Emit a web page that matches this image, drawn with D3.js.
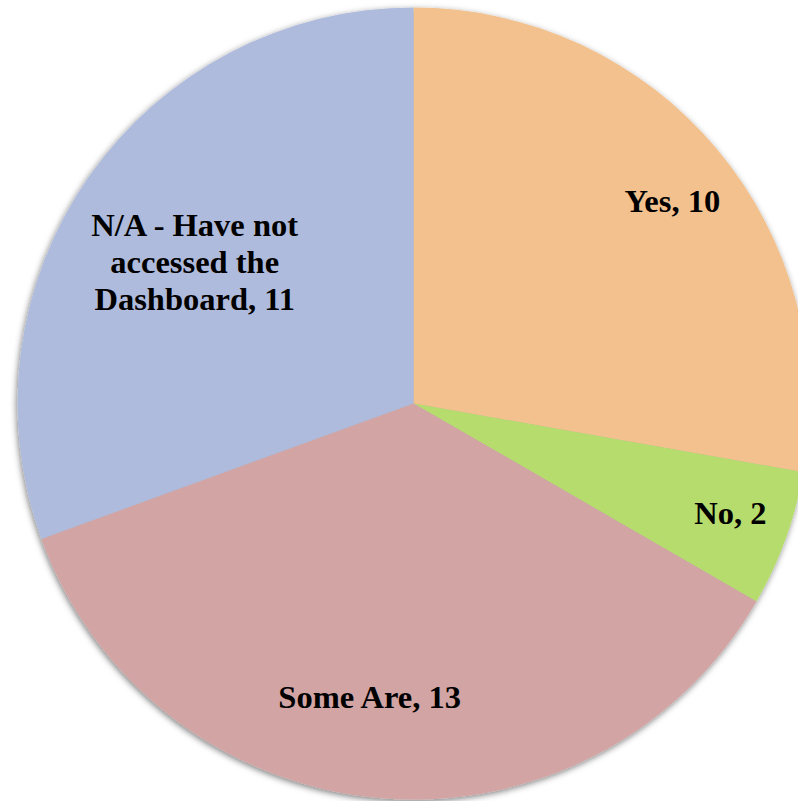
<!DOCTYPE html>
<html>
<head>
<meta charset="utf-8">
<script src="https://cdn.jsdelivr.net/npm/d3@7"></script>
<style>
	html, body { margin: 0; padding: 0; background: #fff; overflow: hidden; }
	text { font-family: 'Palatino Linotype', 'Book Antiqua', Palatino, 'Liberation Serif', serif; font-weight: bold; }
</style>
</head>
<body>
<div id="chart"></div>
<script>
const categories = ['Yes', 'No', 'Some Are', 'N/A - Have not accessed the Dashboard'];
const values = [10, 2, 13, 11];
const colors = ['#f3c18e', '#b6dc6e', '#d2a4a4', '#afbbdc'];

// label layout: radius factor, nudge, line breaks
const labelLayout = [
	{ k: .83, dx: 7, dy: 9, lines: ['Yes, 10'] },
	{ k: .846, dx: 2, dy: -5, lines: ['No, 2'] },
	{ k: .75, dx: -18, dy: -2, lines: ['Some Are, 13'] },
	{ k: .656, dx: -6, dy: 8, lines: ['N/A - Have not', 'accessed the', 'Dashboard, 11'] }
];

const width = 798, height = 801;
const cx = 413.5, cy = 403.5, radius = 396;
const fontSize = 32.5, lineHeight = 37;

let svg = d3.select('#chart')
	.append('svg')
	.attr('width', width)
	.attr('height', height);

let defs = svg.append('defs');
let shadow = defs.append('filter')
	.attr('id', 'shadow')
	.attr('x', '-10%').attr('y', '-10%')
	.attr('width', '120%').attr('height', '120%');
shadow.append('feDropShadow')
	.attr('dx', -1)
	.attr('dy', 2)
	.attr('stdDeviation', 3)
	.attr('flood-color', '#000')
	.attr('flood-opacity', .5);

let g = svg.append('g')
	.attr('transform', `translate(${cx}, ${cy})`);

let data = categories.map((c, i) => ({ label: c, value: values[i], index: i }));

let pie = d3.pie()
	.sort(null)
	.value((d) => d.value);

let arc = d3.arc()
	.innerRadius(0)
	.outerRadius(radius);

let arcs = pie(data);

g.append('g')
	.attr('filter', 'url(#shadow)')
	.selectAll('path')
	.data(arcs)
	.enter()
	.append('path')
	.attr('d', arc)
	.attr('fill', (d) => colors[d.data.index]);

let labels = g.append('g')
	.selectAll('text')
	.data(arcs)
	.enter()
	.append('text')
	.attr('text-anchor', 'middle')
	.attr('font-size', fontSize)
	.attr('fill', '#000')
	.attr('transform', (d) => {
		let lay = labelLayout[d.data.index];
		let r = radius * lay.k;
		let a = (d.startAngle + d.endAngle) / 2;
		let x = Math.sin(a) * r + lay.dx;
		let y = -Math.cos(a) * r + lay.dy;
		return `translate(${x}, ${y})`;
	});

labels.each(function (d) {
	let lay = labelLayout[d.data.index];
	let n = lay.lines.length;
	let first = -(n - 1) * lineHeight / 2 + fontSize * .33;
	d3.select(this).selectAll('tspan')
		.data(lay.lines)
		.enter()
		.append('tspan')
		.attr('x', 0)
		.attr('y', (t, i) => first + i * lineHeight)
		.text((t) => t);
});
</script>
</body>
</html>
